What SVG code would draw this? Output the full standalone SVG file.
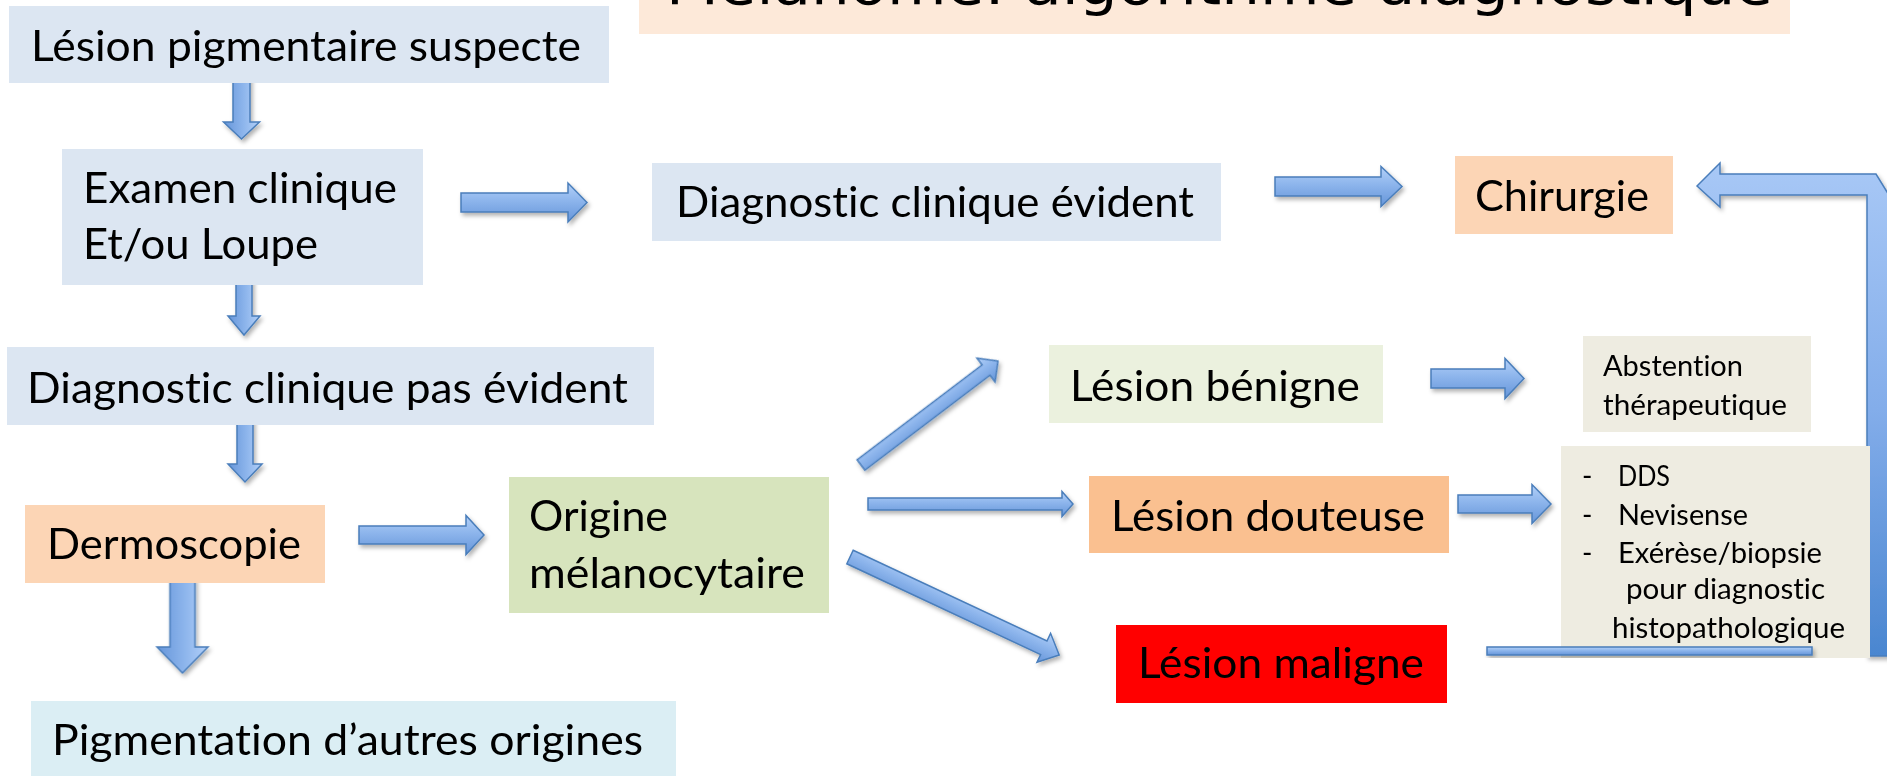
<svg xmlns="http://www.w3.org/2000/svg" width="1887" height="776" viewBox="0 0 1887 776">
<defs>
<linearGradient id="gA" x1="0" y1="0" x2="0" y2="1">
<stop offset="0" stop-color="#b3d0f8"/>
<stop offset="0.45" stop-color="#8db5ec"/>
<stop offset="1" stop-color="#6595d9"/>
</linearGradient>
<linearGradient id="gV" x1="0" y1="0" x2="0" y2="1">
<stop offset="0" stop-color="#a8c8f6"/>
<stop offset="0.5" stop-color="#83adea"/>
<stop offset="1" stop-color="#4a86d0"/>
</linearGradient>
<filter id="sh" x="-10%" y="-10%" width="130%" height="140%">
<feDropShadow dx="2" dy="3" stdDeviation="2" flood-color="#000" flood-opacity="0.3"/>
</filter>
</defs>
<style>
.t{font-family:Lato,"Open Sans","Liberation Sans",sans-serif;fill:#000;font-variant-ligatures:none}
.l{font-size:42px}
.s{font-size:28px}
.ti{font-family:"DejaVu Sans","Liberation Sans",sans-serif;font-size:56px;fill:#000}
.ar{fill:url(#gA);stroke:#4a7ebb;stroke-width:1.5}
.blue{fill:#dce6f2}
.orange{fill:#fcd5b5}
</style>
<rect width="1887" height="776" fill="#fff"/>

<g id="title">
<rect x="639" y="0" width="1151" height="34" fill="#fde9d9"/>
<text class="ti" x="666" y="4" textLength="1107" lengthAdjust="spacingAndGlyphs">Mélanome: algorithme diagnostique</text>
</g>

<g id="connectors" filter="url(#sh)">
<path class="ar" transform="translate(241.5,74) rotate(90)" d="M0,-8.5 L48,-8.5 L48,-18 L65,0 L48,18 L48,8.5 L0,8.5 Z"/>
<path class="ar" transform="translate(461,202.5)" d="M0,-9.5 L107,-9.5 L107,-19.5 L126,0 L107,19.5 L107,9.5 L0,9.5 Z"/>
<path class="ar" transform="translate(1275,186.5)" d="M0,-9.5 L106,-9.5 L106,-20 L127,0 L106,20 L106,9.5 L0,9.5 Z"/>
<path class="ar" transform="translate(244,269) rotate(90)" d="M0,-8 L47,-8 L47,-16 L66,0 L47,16 L47,8 L0,8 Z"/>
<path class="ar" transform="translate(245,416) rotate(90)" d="M0,-8 L48,-8 L48,-17 L66,0 L48,17 L48,8 L0,8 Z"/>
<path class="ar" transform="translate(359,535)" d="M0,-9 L107,-9 L107,-19.5 L125,0 L107,19.5 L107,9 L0,9 Z"/>
<path class="ar" transform="translate(182.5,578) rotate(90)" d="M0,-12.5 L69,-12.5 L69,-25.5 L95,0 L69,25.5 L69,12.5 L0,12.5 Z"/>
<path class="ar" transform="translate(861,465) rotate(-37.2)" d="M0,-6.5 L157,-6.5 L157,-15 L172,0 L157,15 L157,6.5 L0,6.5 Z"/>
<path class="ar" transform="translate(868,504)" d="M0,-6 L194,-6 L194,-12.5 L205,0 L194,12.5 L194,6 L0,6 Z"/>
<path class="ar" transform="translate(850,557) rotate(25.1)" d="M0,-7.5 L214,-7.5 L214,-16 L231,0 L214,16 L214,7.5 L0,7.5 Z"/>
<path class="ar" transform="translate(1431,378.5)" d="M0,-9.5 L74,-9.5 L74,-20 L93,0 L74,20 L74,9.5 L0,9.5 Z"/>
<path class="ar" transform="translate(1458,504)" d="M0,-9 L74,-9 L74,-19.5 L93,0 L74,19.5 L74,9 L0,9 Z"/>
<path d="M1697,186 L1720,163 L1720,174 L1876,174 L1892,200 L1892,656 L1867,656 L1867,195 L1720,195 L1720,207 Z" fill="url(#gV)" stroke="#4a7ebb" stroke-width="1.5"/>
</g>

<g id="n-suspecte">
<rect class="blue" x="9" y="6" width="600" height="77"/>
<text class="t l" x="31" y="61" textLength="550" lengthAdjust="spacingAndGlyphs">Lésion pigmentaire suspecte</text>
</g>

<g id="n-examen">
<rect class="blue" x="62" y="149" width="361" height="136"/>
<text class="t l" x="83" y="203" textLength="314" lengthAdjust="spacingAndGlyphs">Examen clinique</text>
<text class="t l" x="83" y="259" textLength="235" lengthAdjust="spacingAndGlyphs">Et/ou Loupe</text>
</g>

<g id="n-evident">
<rect class="blue" x="652" y="163" width="569" height="78"/>
<text class="t l" x="676" y="217" textLength="518" lengthAdjust="spacingAndGlyphs">Diagnostic clinique évident</text>
</g>

<g id="n-chirurgie">
<rect class="orange" x="1455" y="156" width="218" height="78"/>
<text class="t l" x="1475" y="211" textLength="174" lengthAdjust="spacingAndGlyphs">Chirurgie</text>
</g>

<g id="n-pas-evident">
<rect class="blue" x="7" y="347" width="647" height="78"/>
<text class="t l" x="27" y="403" textLength="601" lengthAdjust="spacingAndGlyphs">Diagnostic clinique pas évident</text>
</g>

<g id="n-dermoscopie">
<rect class="orange" x="25" y="505" width="300" height="78"/>
<text class="t l" x="47" y="559" textLength="254" lengthAdjust="spacingAndGlyphs">Dermoscopie</text>
</g>

<g id="n-origine">
<rect x="509" y="477" width="320" height="136" fill="#d7e4bd"/>
<text class="t l" x="529" y="531" textLength="139" lengthAdjust="spacingAndGlyphs">Origine</text>
<text class="t l" x="529" y="588" textLength="276" lengthAdjust="spacingAndGlyphs">mélanocytaire</text>
</g>

<g id="n-pigmentation">
<rect x="31" y="701" width="645" height="76" fill="#dbeef4"/>
<text class="t l" x="52" y="755" textLength="591" lengthAdjust="spacingAndGlyphs">Pigmentation d’autres origines</text>
</g>

<g id="n-benigne">
<rect x="1049" y="345" width="334" height="78" fill="#ebf1de"/>
<text class="t l" x="1070" y="401" textLength="290" lengthAdjust="spacingAndGlyphs">Lésion bénigne</text>
</g>

<g id="n-douteuse">
<rect x="1089" y="476" width="360" height="77" fill="#fac090"/>
<text class="t l" x="1111" y="531" textLength="314" lengthAdjust="spacingAndGlyphs">Lésion douteuse</text>
</g>

<g id="n-maligne">
<rect x="1116" y="625" width="331" height="78" fill="#ff0000"/>
<text class="t l" x="1138" y="678" textLength="286" lengthAdjust="spacingAndGlyphs">Lésion maligne</text>
</g>

<g id="n-abstention">
<rect x="1583" y="336" width="228" height="96" fill="#eeece1"/>
<text class="t s" x="1603" y="376" textLength="140" lengthAdjust="spacingAndGlyphs">Abstention</text>
<text class="t s" x="1603" y="415" textLength="184" lengthAdjust="spacingAndGlyphs">thérapeutique</text>
</g>

<g id="n-examens">
<rect x="1561" y="446" width="309" height="212" fill="#eeece1"/>
<text class="t s" x="1582" y="486">-</text>
<text class="t s" x="1618" y="486" textLength="52" lengthAdjust="spacingAndGlyphs">DDS</text>
<text class="t s" x="1582" y="525">-</text>
<text class="t s" x="1618" y="525" textLength="130" lengthAdjust="spacingAndGlyphs">Nevisense</text>
<text class="t s" x="1582" y="563">-</text>
<text class="t s" x="1618" y="563" textLength="204" lengthAdjust="spacingAndGlyphs">Exérèse/biopsie</text>
<text class="t s" x="1626" y="599" textLength="199" lengthAdjust="spacingAndGlyphs">pour diagnostic</text>
<text class="t s" x="1612" y="638" textLength="233" lengthAdjust="spacingAndGlyphs">histopathologique</text>
</g>

<g id="connector-bar" filter="url(#sh)">
<rect x="1487" y="647" width="325" height="8" fill="url(#gA)" stroke="#4a7ebb" stroke-width="1.5"/>
</g>
</svg>
